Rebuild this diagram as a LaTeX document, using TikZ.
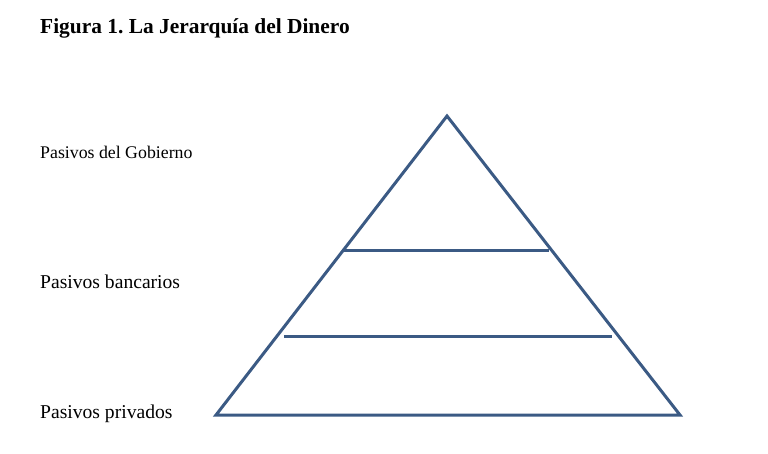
\documentclass[tikz,border=0pt]{standalone}
\usepackage{fontspec}
\setmainfont{Liberation Serif}
\frenchspacing
\definecolor{pyr}{HTML}{3B5A84}
\begin{document}
\begin{tikzpicture}[x=1pt,y=-1pt,
  edge/.style={draw=pyr,line width=3pt,line join=miter},
  bar/.style={draw=pyr,line width=3pt},
  lbl/.style={anchor=base west,inner sep=0pt,font=\fontsize{19.6}{22}\selectfont}]
\useasboundingbox (0,0) rectangle (768,454);
\coordinate (apex) at (447,116);
\coordinate (bl) at (216,415);
\coordinate (br) at (680,415);
\coordinate (l1a) at (343,251);
\coordinate (l1b) at (549,251);
\coordinate (l2a) at (284,336);
\coordinate (l2b) at (612,336);
\draw[edge] (bl) -- (apex) -- (br) -- cycle;
\draw[bar] (l1a) -- (l1b);
\draw[bar] (l2a) -- (l2b);
\node[anchor=base west,inner sep=0pt,font=\bfseries\fontsize{21.4}{24}\selectfont] (title) at (40,34) {Figura 1. La Jerarquía del Dinero};
\node[lbl,font=\fontsize{17.8}{20}\selectfont] (gob) at (40,159) {Pasivos del Gobierno};
\node[lbl] (ban) at (40,288) {Pasivos bancarios};
\node[lbl] (pri) at (40,418) {Pasivos privados};
\end{tikzpicture}
\end{document}
